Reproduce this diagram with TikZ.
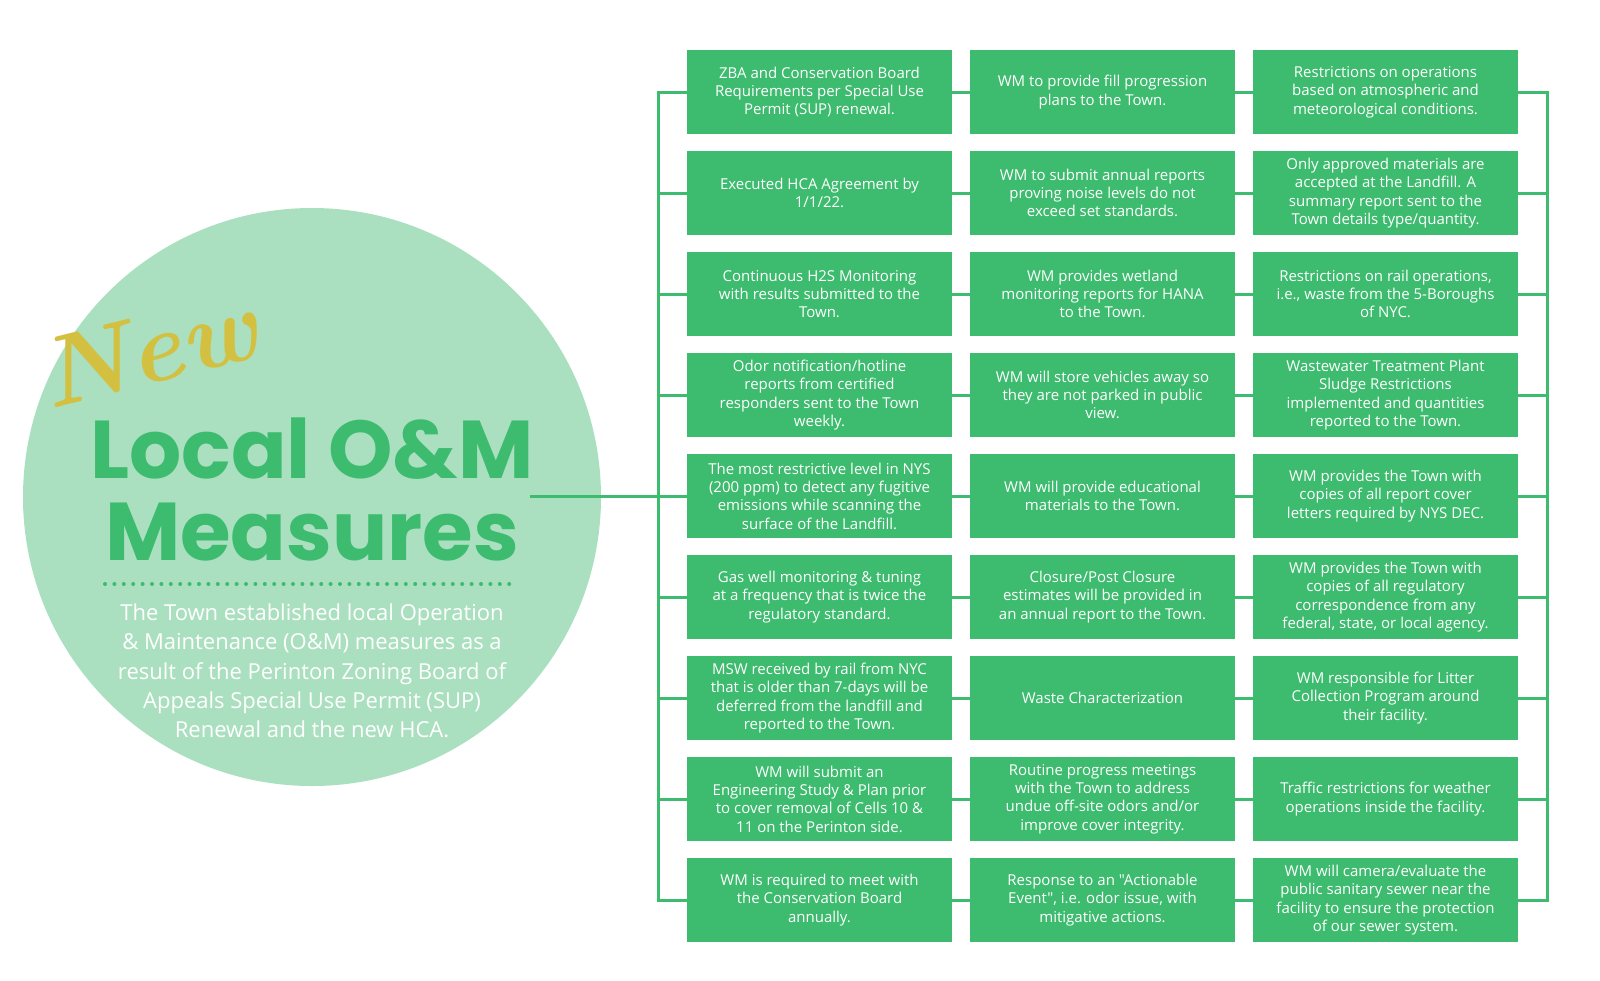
\documentclass[tikz,border=0pt]{standalone}
\usepackage{fontspec}
\newfontfamily\boxfont{Open Sans}
\newfontfamily\titlefont{Poppins}
\usepackage{tikz}
\usetikzlibrary{positioning}
\definecolor{BoxGreen}{HTML}{3DBB6E}
\definecolor{DiscGreen}{HTML}{AAE0C0}
\definecolor{NewGold}{HTML}{D4C040}
\tikzstyle{MeasureBox}=[rectangle, fill=BoxGreen, text=white, minimum width=132.5pt, minimum height=42pt, inner sep=1pt, outer sep=0pt, align=center, font=\boxfont\fontsize{7.5}{9.15}\selectfont]
\tikzstyle{Link}=[draw=BoxGreen, line width=1.5pt]

\begin{document}
\begin{tikzpicture}[x=0.5pt, y=-0.5pt, node distance={8.5pt and 9pt}]
      \useasboundingbox (0,0) rectangle (1600,980);
      % left disc with title
      \node[circle, fill=DiscGreen, minimum size=289pt, inner sep=0pt] (disc) at (312,497) {};
      \node[text=NewGold, rotate=14, inner sep=0pt, font=\fontsize{50}{50}\selectfont\bfseries\itshape] (new) at (148,350) {New};
      \node[text=BoxGreen, anchor=base, font=\titlefont\bfseries\fontsize{41}{41}\selectfont] (local) at (312,478) {Local O\&M};
      \node[text=BoxGreen, anchor=base, font=\titlefont\bfseries\fontsize{41}{41}\selectfont] (measures) at (312,560) {Measures};
      \draw[BoxGreen, line width=2pt, line cap=round, dash pattern=on 0pt off 4.7pt] (105,584) -- (517,584);
      \node[text=white, anchor=north, align=center, font=\boxfont\fontsize{11}{14.6}\selectfont] (about) at (312,597) {The Town established local Operation\\ \& Maintenance (O\&M) measures as a\\ result of the Perinton Zoning Board of\\ Appeals Special Use Permit (SUP)\\ Renewal and the new HCA.};
      % grid of measures
      \node[MeasureBox] (11) at (819.5,92) {ZBA and Conservation Board\\Requirements per Special Use\\Permit (SUP) renewal.};
      \node[MeasureBox] (12) [right=of 11] {WM to provide fill progression\\plans to the Town.};
      \node[MeasureBox] (13) [right=of 12] {Restrictions on operations\\based on atmospheric and\\meteorological conditions.};
      \node[MeasureBox] (21) [below=of 11] {Executed HCA Agreement by\\1/1/22.};
      \node[MeasureBox] (22) [right=of 21] {WM to submit annual reports\\proving noise levels do not\\exceed set standards.};
      \node[MeasureBox] (23) [right=of 22] {Only approved materials are\\accepted at the Landfill. A\\summary report sent to the\\Town details type/quantity.};
      \node[MeasureBox] (31) [below=of 21] {Continuous H2S Monitoring\\with results submitted to the\\Town.};
      \node[MeasureBox] (32) [right=of 31] {WM provides wetland\\monitoring reports for HANA\\to the Town.};
      \node[MeasureBox] (33) [right=of 32] {Restrictions on rail operations,\\i.e., waste from the 5-Boroughs\\of NYC.};
      \node[MeasureBox] (41) [below=of 31] {Odor notification/hotline\\reports from certified\\responders sent to the Town\\weekly.};
      \node[MeasureBox] (42) [right=of 41] {WM will store vehicles away so\\they are not parked in public\\view.};
      \node[MeasureBox] (43) [right=of 42] {Wastewater Treatment Plant\\Sludge Restrictions\\implemented and quantities\\reported to the Town.};
      \node[MeasureBox] (51) [below=of 41] {The most restrictive level in NYS\\(200 ppm) to detect any fugitive\\emissions while scanning the\\surface of the Landfill.};
      \node[MeasureBox] (52) [right=of 51] {WM will provide educational\\materials to the Town.};
      \node[MeasureBox] (53) [right=of 52] {WM provides the Town with\\copies of all report cover\\letters required by NYS DEC.};
      \node[MeasureBox] (61) [below=of 51] {Gas well monitoring \& tuning\\at a frequency that is twice the\\regulatory standard.};
      \node[MeasureBox] (62) [right=of 61] {Closure/Post Closure\\estimates will be provided in\\an annual report to the Town.};
      \node[MeasureBox] (63) [right=of 62] {WM provides the Town with\\copies of all regulatory\\correspondence from any\\federal, state, or local agency.};
      \node[MeasureBox] (71) [below=of 61] {MSW received by rail from NYC\\that is older than 7-days will be\\deferred from the landfill and\\reported to the Town.};
      \node[MeasureBox] (72) [right=of 71] {Waste Characterization};
      \node[MeasureBox] (73) [right=of 72] {WM responsible for Litter\\Collection Program around\\their facility.};
      \node[MeasureBox] (81) [below=of 71] {WM will submit an\\Engineering Study \& Plan prior\\to cover removal of Cells 10 \&\\11 on the Perinton side.};
      \node[MeasureBox] (82) [right=of 81] {Routine progress meetings\\with the Town to address\\undue off-site odors and/or\\improve cover integrity.};
      \node[MeasureBox] (83) [right=of 82] {Traffic restrictions for weather\\operations inside the facility.};
      \node[MeasureBox] (91) [below=of 81] {WM is required to meet with\\the Conservation Board\\annually.};
      \node[MeasureBox] (92) [right=of 91] {Response to an "Actionable\\Event", i.e. odor issue, with\\mitigative actions.};
      \node[MeasureBox] (93) [right=of 92] {WM will camera/evaluate the\\public sanitary sewer near the\\facility to ensure the protection\\of our sewer system.};
      % bars and links
      \coordinate (L1) at ([xshift=-14.5pt]11.west);
      \coordinate (R1) at ([xshift=14.5pt]13.east);
      \coordinate (hub) at (530,496);
      \draw[Link, line cap=rect] (L1) -- (L1 |- 91);
      \draw[Link, line cap=rect] (R1) -- (R1 |- 93);
      \draw[Link] (hub) -- (L1 |- 51);
      \draw[Link] (L1) -- (11) -- (12) -- (13) -- (R1);
      \draw[Link] (L1 |- 21) -- (21) -- (22) -- (23) -- (R1 |- 23);
      \draw[Link] (L1 |- 31) -- (31) -- (32) -- (33) -- (R1 |- 33);
      \draw[Link] (L1 |- 41) -- (41) -- (42) -- (43) -- (R1 |- 43);
      \draw[Link] (L1 |- 51) -- (51) -- (52) -- (53) -- (R1 |- 53);
      \draw[Link] (L1 |- 61) -- (61) -- (62) -- (63) -- (R1 |- 63);
      \draw[Link] (L1 |- 71) -- (71) -- (72) -- (73) -- (R1 |- 73);
      \draw[Link] (L1 |- 81) -- (81) -- (82) -- (83) -- (R1 |- 83);
      \draw[Link] (L1 |- 91) -- (91) -- (92) -- (93) -- (R1 |- 93);
    \end{tikzpicture}
\end{document}
